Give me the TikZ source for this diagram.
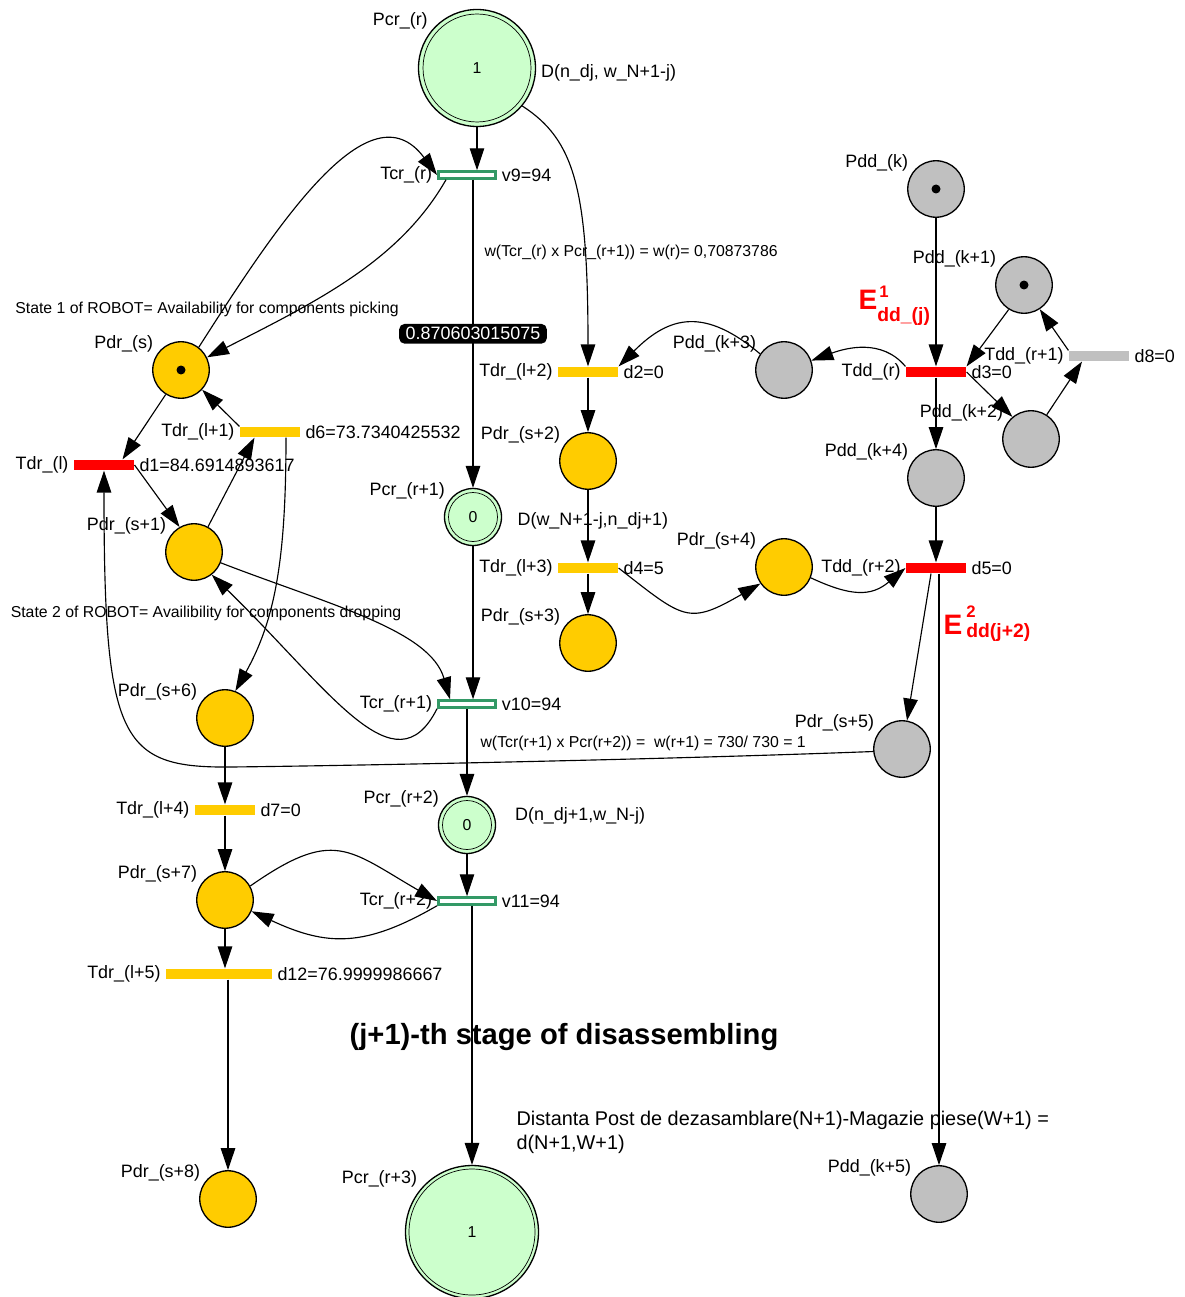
\documentclass[tikz,border=0pt]{standalone}
\usepackage{fontspec}
\setmainfont{Liberation Sans}
\usetikzlibrary{arrows.meta,positioning}
\definecolor{pgreen}{HTML}{CCFFCC}
\definecolor{pyellow}{HTML}{FFCC00}
\definecolor{pgray}{HTML}{C0C0C0}
\definecolor{tgreen}{HTML}{339966}
\newcommand\esup{\fontsize{9.5}{10}\selectfont}
\newcommand\esub{\fontsize{11}{12}\selectfont}
\begin{document}
\begin{tikzpicture}[x=0.02cm, y=-0.02cm, >={Triangle[length=0.44cm,width=0.29cm]}, line width=0.65pt,
  lbl/.style={font=\fontsize{10.2}{12}\selectfont, inner sep=2.5pt},
  plbl/.style={lbl, xshift=-0.05cm, yshift=-0.16cm},
  note/.style={font=\fontsize{9}{11}\selectfont, inner sep=0pt},
  place/.style={circle, draw, line width=0.75pt, minimum size=1.13cm, inner sep=0pt, font=\fontsize{9}{11}\selectfont},
  pdr/.style={place, fill=pyellow},
  pdd/.style={place, fill=pgray},
  pcr/.style={place, fill=pgreen},
  token/.style={path picture={\fill[black] (path picture bounding box.center) circle (0.09cm);}},
  bar/.style={rectangle, inner sep=0pt, minimum width=1.2cm, minimum height=0.2cm},
  tdr/.style={bar, fill=pyellow},
  tred/.style={bar, fill=red},
  tgry/.style={bar, fill=pgray},
  tcr/.style={bar, draw=tgreen, fill=white, line width=0.06cm, minimum width=1.14cm, minimum height=0.13cm},
  valbox/.style={fill=black, text=white, rounded corners=3pt, inner xsep=3.7pt, inner ysep=2pt, font=\fontsize{10.2}{12}\selectfont},
  elbl/.style={text=red, font=\fontsize{16}{18}\selectfont\bfseries, inner sep=0pt, anchor=base west}]
\useasboundingbox (0,0) rectangle (1184,1297);

\node[pcr, minimum size=2.34cm, label={[plbl]135:Pcr\_(r)}, label={[lbl, yshift=-0.1cm]0:D(n\_dj, w\_N+1-j)}] (Pcr_r) at (477,68) {1};
\node[tcr, label={[lbl]left:Tcr\_(r)}, label={[lbl]right:v9=94}] (Tcr_r) at (467,175) {};
\node[pdr, token, label={[plbl]135:Pdr\_(s)}] (Pdr_s) at (181,370) {};
\node[tred, label={[lbl]left:Tdr\_(l)}, label={[lbl]right:d1=84.6914893617}] (Tdr_l) at (104,465) {};
\node[tdr, label={[lbl]left:Tdr\_(l+1)}, label={[lbl]right:d6=73.7340425532}] (Tdr_l1) at (270,432) {};
\node[pdr, label={[plbl]135:Pdr\_(s+1)}] (Pdr_s1) at (194,552) {};
\node[pdr, label={[plbl]135:Pdr\_(s+6)}] (Pdr_s6) at (225,718) {};
\node[tdr, label={[lbl]left:Tdr\_(l+4)}, label={[lbl]right:d7=0}] (Tdr_l4) at (225,810) {};
\node[pdr, label={[plbl]135:Pdr\_(s+7)}] (Pdr_s7) at (225,900) {};
\node[tdr, minimum width=2.12cm, label={[lbl]left:Tdr\_(l+5)}, label={[lbl]right:d12=76.9999986667}] (Tdr_l5) at (219,974) {};
\node[pdr, label={[plbl]135:Pdr\_(s+8)}] (Pdr_s8) at (228,1199) {};

\node[pcr, minimum size=1.14cm, label={[plbl]135:Pcr\_(r+1)}, label={[lbl, label distance=0.21cm, yshift=-0.08cm]0:D(w\_N+1-j,n\_dj+1)}] (Pcr_r1) at (473,517) {0};
\node[tcr, label={[lbl]left:Tcr\_(r+1)}, label={[lbl]right:v10=94}] (Tcr_r1) at (467,704) {};
\node[pcr, minimum size=1.14cm, label={[plbl]135:Pcr\_(r+2)}, label={[lbl, label distance=0.28cm, yshift=0.18cm]0:D(n\_dj+1,w\_N-j)}] (Pcr_r2) at (467,825) {0};
\node[tcr, label={[lbl]left:Tcr\_(r+2)}, label={[lbl]right:v11=94}] (Tcr_r2) at (467,901) {};
\node[pcr, minimum size=2.66cm, label={[plbl]135:Pcr\_(r+3)}] (Pcr_r3) at (472,1232) {1};

\node[tdr, label={[lbl]left:Tdr\_(l+2)}, label={[lbl]right:d2=0}] (Tdr_l2) at (588,372) {};
\node[pdr, label={[plbl]135:Pdr\_(s+2)}] (Pdr_s2) at (588,461) {};
\node[tdr, label={[lbl]left:Tdr\_(l+3)}, label={[lbl]right:d4=5}] (Tdr_l3) at (588,568) {};
\node[pdr, label={[plbl]135:Pdr\_(s+3)}] (Pdr_s3) at (588,643) {};
\node[pdr, label={[plbl]135:Pdr\_(s+4)}] (Pdr_s4) at (784,567) {};
\node[pdd, label={[plbl]135:Pdd\_(k+3)}] (Pdd_k3) at (784,370) {};

\node[pdd, token, label={[plbl]135:Pdd\_(k)}] (Pdd_k) at (936,189) {};
\node[tred, label={[lbl]left:Tdd\_(r)}, label={[lbl]right:d3=0}] (Tdd_r) at (936,372) {};
\node[pdd, token, label={[plbl]135:Pdd\_(k+1)}] (Pdd_k1) at (1024,285) {};
\node[tgry, label={[lbl]left:Tdd\_(r+1)}, label={[lbl]right:d8=0}] (Tdd_r1) at (1099,356) {};
\node[pdd, label={[plbl]135:Pdd\_(k+2)}] (Pdd_k2) at (1031,439) {};
\node[pdd, label={[plbl]135:Pdd\_(k+4)}] (Pdd_k4) at (936,478) {};
\node[tred, label={[lbl]left:Tdd\_(r+2)}, label={[lbl]right:d5=0}] (Tdd_r2) at (936,568) {};
\node[pdd, label={[plbl]135:Pdr\_(s+5)}] (Pdr_s5) at (902,749) {};
\node[pdd, label={[plbl]135:Pdd\_(k+5)}] (Pdd_k5) at (939,1194) {};

\draw[line width=0.4pt] (Pcr_r) circle (1.08cm) (Pcr_r1) circle (0.49cm) (Pcr_r2) circle (0.49cm) (Pcr_r3) circle (1.26cm);

\node[elbl] (E1) at (858,310) {E\rlap{\kern0.04cm\raisebox{0.26cm}{\esup 1}}\raisebox{-0.24cm}{\esub dd\_(j)}};
\node[elbl] (E2) at (943,634) {E\kern0.08cm\rlap{\raisebox{0.34cm}{\esup 2}}\raisebox{-0.06cm}{\esub dd(j+2)}};

\node[note] (state1) at (207,309) {State 1 of ROBOT= Availability for components picking};
\node[note] (state2) at (206,613) {State 2 of ROBOT= Availibility for components dropping};
\node[font=\fontsize{16.6}{18}\selectfont\bfseries] (stage) at (564,1037) {(j+1)-th stage of disassembling};
\node[font=\fontsize{11.3}{13.6}\selectfont, align=left, anchor=north west, inner sep=0pt] (dist) at (516,1111) {Distanta Post de dezasamblare(N+1)-Magazie piese(W+1) =\\d(N+1,W+1)};

\draw[->] (Pcr_r.south) -- (Pcr_r.south |- Tcr_r.north);
\draw[->] (Pcr_r.-40) .. controls (575,140) and (588,190) .. (Tdr_l2.north);
\draw[->] (Tcr_r.south -| Pcr_r1.north) -- node[valbox] (ratio) {0.870603015075} node[note, pos=0.236, right=0.22cm] (wr) {w(Tcr\_(r) x Pcr\_(r+1)) = w(r)= 0,70873786} (Pcr_r1.north);
\draw[->] (Pdr_s.52) .. controls (280,220) and (370,85) .. (Tcr_r.west);
\draw[->] ([xshift=0.18cm]Tcr_r.south west) .. controls (400,260) and (320,300) .. (Pdr_s.26);
\draw[->] (Pdr_s.-122) -- ([xshift=0.37cm]Tdr_l.north);
\draw[->] (Tdr_l1.north west) -- (Pdr_s.-43);
\draw[->] (Tdr_l.east) -- (Pdr_s1.120);
\draw[->] (Pdr_s1.61) -- ([xshift=-0.31cm]Tdr_l1.south);
\draw[->] ([xshift=0.32cm]Tdr_l1.south) .. controls (286,560) and (275,620) .. (Pdr_s6.69);
\draw[->] (Pdr_s1.-22) .. controls (330,605) and (430,630) .. ([xshift=-0.34cm]Tcr_r1.north);
\draw[->] (Tcr_r1.south west) .. controls (395,792) and (330,690) .. (Pdr_s1.-52);
\draw[->] (Pcr_r1.south) -- (Pcr_r1.south |- Tcr_r1.north);
\draw[->] (Tcr_r1) -- node[note, pos=0.4, right=0.26cm] (wr1) {w(Tcr(r+1) x Pcr(r+2)) =~ w(r+1) = 730/ 730 = 1} (Pcr_r2);
\draw[->] (Pdr_s5.185) .. controls (650,760) and (330,766) .. (230,767) .. controls (120,768) and (104,740) .. (Tdr_l.south);
\draw[->] ([xshift=-0.1cm]Tdd_r2.south) -- (Pdr_s5.80);
\draw[->] (Tdd_r2.south -| Pdd_k5.north) -- (Pdd_k5.north);

\draw[->] (Pdr_s6) -- (Tdr_l4);
\draw[->] (Tdr_l4) -- (Pdr_s7);
\draw[->] (Pdr_s7.south) -- (Pdr_s7.south |- Tdr_l5.north);
\draw[->] (Tdr_l5.south -| Pdr_s8.north) -- (Pdr_s8.north);
\draw[->] (Pdr_s7.29) to[out=35, in=150, looseness=1.4] (Tcr_r2.west);
\draw[->] (Tcr_r2.south west) to[out=-150, in=-25, looseness=1.15] (Pdr_s7.-23);
\draw[->] (Pcr_r2) -- (Tcr_r2);
\draw[->] (Tcr_r2.south -| Pcr_r3.north) -- (Pcr_r3.north);

\draw[->] (Tdr_l2) -- (Pdr_s2);
\draw[->] (Pdr_s2) -- (Tdr_l3);
\draw[->] (Tdr_l3) -- (Pdr_s3);
\draw[->] (Tdr_l3.east) to[out=-38, in=-150, looseness=1.5] (Pdr_s4.-145);
\draw[->] (Pdr_s4.-22) to[out=-25, in=-140, looseness=1.2] (Tdd_r2.west);
\draw[->] (Pdd_k3.146) to[out=140, in=45, looseness=1.3] (Tdr_l2.north east);
\draw[->] (Tdd_r.north west) to[out=130, in=20] (Pdd_k3.19);

\draw[->] (Pdd_k) -- (Tdd_r);
\draw[->] (Tdd_r) -- (Pdd_k4);
\draw[->] (Pdd_k4) -- (Tdd_r2);
\draw[->] (Pdd_k1.-122) -- (Tdd_r.north east);
\draw[->] (Tdd_r.east) -- (Pdd_k2.130);
\draw[->] (Pdd_k2.57) -- ([xshift=-0.34cm]Tdd_r1.south);
\draw[->] (Tdd_r1.north west) -- (Pdd_k1.-57);
\end{tikzpicture}
\end{document}
